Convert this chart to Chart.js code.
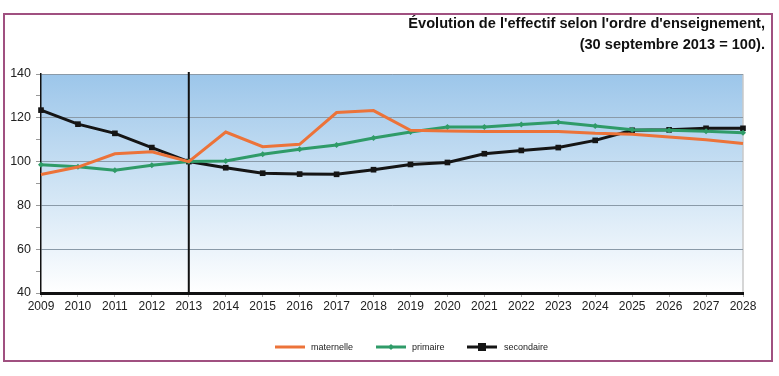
<!DOCTYPE html>
<html>
<head>
<meta charset="utf-8">
<script src="https://cdn.jsdelivr.net/npm/chart.js@4"></script>
<style>
    html, body { margin: 0; padding: 0; background: #fff; }
    #wrap { width: 779px; height: 376px; }
</style>
</head>
<body>
<div id="wrap"><canvas id="myChart" width="779" height="376"></canvas></div>
<script>
// Data (index 100 = 30 septembre 2013)
const years = ['2009', '2010', '2011', '2012', '2013', '2014', '2015', '2016', '2017', '2018',
    '2019', '2020', '2021', '2022', '2023', '2024', '2025', '2026', '2027', '2028'];
const maternelle = [94.1, 97.5, 103.6, 104.5, 100, 113.5, 106.8, 107.9, 122.4, 123.3,
    114.3, 114.0, 113.7, 113.7, 113.7, 112.9, 112.5, 111.2, 110.0, 108.3];
const primaire = [98.6, 97.7, 96.0, 98.3, 100, 100.3, 103.4, 105.6, 107.6, 110.8,
    113.5, 115.8, 115.8, 116.9, 118.0, 116.3, 114.5, 114.3, 113.9, 113.2];
const secondaire = [123.5, 117.1, 112.9, 106.4, 100, 97.2, 94.7, 94.3, 94.2, 96.3,
    98.7, 99.6, 103.6, 105.1, 106.4, 109.7, 114.3, 114.5, 115.2, 115.2];
const seriesNames = ['maternelle', 'primaire', 'secondaire'];
const titleLines = ["Évolution de l'effectif selon l'ordre d'enseignement,", "(30 septembre 2013 = 100)."];
const yTicks = [40, 60, 80, 100, 120, 140];
const refYear = '2013';

const FONT = "'Liberation Sans', Arial, sans-serif";

// frame, background gradient, reference line, title and legend
const decorPlugin = {
    id: 'decor',
    beforeDraw(chart) {
        const ctx = chart.ctx;
        const a = chart.chartArea;
        ctx.save();
        ctx.fillStyle = '#fff';
        ctx.fillRect(0, 0, chart.width, chart.height);
        const g = ctx.createLinearGradient(0, a.top, 0, a.bottom);
        g.addColorStop(0, '#9cc6ea');
        g.addColorStop(0.45, '#c9e0f3');
        g.addColorStop(1, '#ffffff');
        ctx.fillStyle = g;
        ctx.fillRect(a.left, a.top, a.right - a.left, a.bottom - a.top);
        // right edge of plot
        ctx.strokeStyle = '#c8c8c8';
        ctx.lineWidth = 1.5;
        ctx.beginPath();
        ctx.moveTo(a.right, a.top);
        ctx.lineTo(a.right, a.bottom);
        ctx.stroke();
        // frame
        ctx.strokeStyle = '#a05080';
        ctx.lineWidth = 2;
        ctx.strokeRect(4, 14, 768, 347);
        ctx.restore();
    },
    beforeDatasetsDraw(chart) {
        const ctx = chart.ctx;
        const a = chart.chartArea;
        const x = chart.scales.x.getPixelForValue(years.indexOf(refYear));
        ctx.save();
        ctx.strokeStyle = '#111';
        ctx.lineWidth = 2;
        ctx.beginPath();
        ctx.moveTo(x, a.top - 2);
        ctx.lineTo(x, a.bottom);
        ctx.stroke();
        ctx.restore();
    },
    afterDraw(chart) {
        const ctx = chart.ctx;
        ctx.save();
        // title
        ctx.fillStyle = '#111';
        ctx.font = 'bold 14.6px ' + FONT;
        ctx.textAlign = 'right';
        ctx.textBaseline = 'alphabetic';
        ctx.fillText(titleLines[0], 765, 28);
        ctx.fillText(titleLines[1], 765, 49);
        // legend
        const items = [
            { x: 275, tx: 311 },
            { x: 376, tx: 412 },
            { x: 467, tx: 504 }
        ];
        const y = 347;
        ctx.textAlign = 'left';
        ctx.textBaseline = 'middle';
        ctx.font = '9px ' + FONT;
        chart.data.datasets.forEach((ds, i) => {
            const it = items[i];
            ctx.strokeStyle = ds.borderColor;
            ctx.lineWidth = 3;
            ctx.beginPath();
            ctx.moveTo(it.x, y);
            ctx.lineTo(it.x + 30, y);
            ctx.stroke();
            if (ds.pointRadius > 0) {
                ctx.fillStyle = ds.borderColor;
                const r = ds.pointRadius;
                if (ds.pointStyle === 'rect') {
                    ctx.fillRect(it.x + 15 - r, y - r, 2 * r, 2 * r);
                } else {
                    ctx.beginPath();
                    ctx.moveTo(it.x + 15, y - r);
                    ctx.lineTo(it.x + 15 + r, y);
                    ctx.lineTo(it.x + 15, y + r);
                    ctx.lineTo(it.x + 15 - r, y);
                    ctx.closePath();
                    ctx.fill();
                }
            }
            ctx.fillStyle = '#222';
            ctx.fillText(ds.label, it.tx, y + 0.5);
        });
        ctx.restore();
    }
};

const data = {
    labels: years,
    datasets: [
        {
            label: seriesNames[0],
            data: maternelle,
            borderColor: '#ec7339',
            backgroundColor: '#ec7339',
            borderWidth: 3,
            pointRadius: 0,
            tension: 0
        },
        {
            label: seriesNames[1],
            data: primaire,
            borderColor: '#2f9b68',
            backgroundColor: '#2f9b68',
            borderWidth: 3,
            pointStyle: 'rectRot',
            pointRadius: 3,
            pointBorderWidth: 0,
            tension: 0
        },
        {
            label: seriesNames[2],
            data: secondaire,
            borderColor: '#151515',
            backgroundColor: '#151515',
            borderWidth: 3,
            pointStyle: 'rect',
            pointRadius: 4,
            pointBorderWidth: 0,
            tension: 0
        }
    ]
};

const config = {
    type: 'line',
    data,
    options: {
        responsive: false,
        animation: false,
        layout: {
            padding: { left: 8, right: 36, top: 74, bottom: 63 }
        },
        scales: {
            x: {
                offset: false,
                grid: {
                    drawOnChartArea: false,
                    drawTicks: true,
                    tickLength: 4,
                    tickColor: '#aaa'
                },
                border: { color: '#111', width: 3 },
                ticks: {
                    color: '#222',
                    padding: 2,
                    maxRotation: 0,
                    autoSkip: false,
                    font: { size: 12, family: FONT }
                },
                afterFit: s => { s.height = 20; }
            },
            y: {
                min: 40,
                max: 140,
                grid: {
                    color: ctx => (ctx.tick && ctx.tick.value % 20 === 0 && ctx.tick.value > 40) ? '#8a9aa8' : 'transparent',
                    tickColor: '#999',
                    tickLength: 5,
                    lineWidth: 1
                },
                border: { color: '#111', width: 1.5 },
                ticks: {
                    stepSize: 10,
                    color: '#222',
                    padding: 5,
                    font: { size: 12.5, family: FONT },
                    callback: v => yTicks.includes(v) ? v : ''
                },
                afterFit: s => { s.width = 33; }
            }
        },
        plugins: {
            legend: { display: false },
            title: { display: false },
            tooltip: { enabled: false }
        }
    },
    plugins: [decorPlugin]
};

window.myChart = new Chart(document.getElementById('myChart'), config);
</script>
</body>
</html>
